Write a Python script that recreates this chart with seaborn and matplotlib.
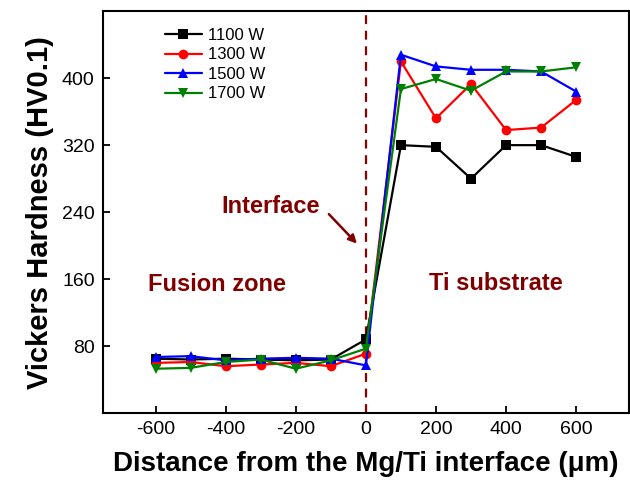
import matplotlib
matplotlib.use("Agg")
import matplotlib.pyplot as plt
import seaborn as sns
import pandas as pd

distance = [-600, -500, -400, -300, -200, -100, 0, 100, 200, 300, 400, 500, 600]
hv_1100 = [65, 64, 65, 64, 63, 64, 88, 320, 318, 280, 320, 320, 306]
hv_1300 = [60, 61, 56, 58, 60, 56, 71, 420, 352, 393, 338, 341, 374]
hv_1500 = [67, 68, 63, 65, 66, 65, 57, 428, 414, 410, 410, 408, 384]
hv_1700 = [53, 54, 61, 64, 53, 63, 77, 387, 399, 385, 408, 408, 413]
series_names = ["1100 W", "1300 W", "1500 W", "1700 W"]
colors = ["black", "red", "blue", "green"]
markers = ["s", "o", "^", "v"]
x_ticks = [-600, -400, -200, 0, 200, 400, 600]
y_ticks = [80, 160, 240, 320, 400]

sns.set_style("white")
plt.rcParams["font.family"] = ["Liberation Sans", "DejaVu Sans"]
plt.rcParams["axes.unicode_minus"] = False
plt.rcParams["text.color"] = "black"
plt.rcParams["axes.labelcolor"] = "black"

rows = []
for name, vals in zip(series_names, [hv_1100, hv_1300, hv_1500, hv_1700]):
    for d, v in zip(distance, vals):
        rows.append({"distance": d, "hv": v, "power": name})
df = pd.DataFrame(rows)

fig = plt.figure(figsize=(6.3, 4.86), dpi=100)
ax = fig.add_axes([0.1635, 0.150, 0.8345, 0.827])

sns.lineplot(data=df, x="distance", y="hv", hue="power", style="power",
             hue_order=series_names, style_order=series_names,
             palette=dict(zip(series_names, colors)),
             markers=dict(zip(series_names, markers)), dashes=False,
             markersize=7, markeredgewidth=0, linewidth=1.6, ax=ax, legend=True)

ax.axvline(0, color="#8B0000", linestyle=(0, (4, 3)), linewidth=1.6, zorder=1)

ax.set_xlim(-750, 750)
ax.set_ylim(0, 480)
ax.set_xticks(x_ticks)
ax.set_yticks(y_ticks)
ax.tick_params(direction="in", length=5, width=1.3, labelsize=14, colors="black",
               bottom=True, left=True, top=False, right=False, pad=6)
for s in ax.spines.values():
    s.set_color("black")
    s.set_linewidth(1.5)

ax.set_xlabel("Distance from the Mg/Ti interface (\u03bcm)", fontsize=20, fontweight="bold",
              labelpad=9, color="black")
ax.set_ylabel("Vickers Hardness (HV0.1)", fontsize=21, fontweight="bold", labelpad=6, color="black")

maroon = "#800000"
ax.text(-271, 247, "Interface", color=maroon, fontsize=17, fontweight="bold", ha="center", va="center")
ax.annotate("", xy=(-20, 200), xytext=(-111, 240),
            arrowprops=dict(arrowstyle="-|>", color=maroon, lw=1.8, mutation_scale=12))
ax.text(-426, 153, "Fusion zone", color=maroon, fontsize=17, fontweight="bold", ha="center", va="center")
ax.text(371, 155, "Ti substrate", color=maroon, fontsize=17, fontweight="bold", ha="center", va="center")

leg = ax.legend(loc="upper left", bbox_to_anchor=(0.105, 0.975), frameon=False, fontsize=12,
                handlelength=2.2, handletextpad=0.4, labelspacing=0.27, borderaxespad=0)
for t in leg.get_texts():
    t.set_color("black")

fig.savefig("out.png", dpi=100)
